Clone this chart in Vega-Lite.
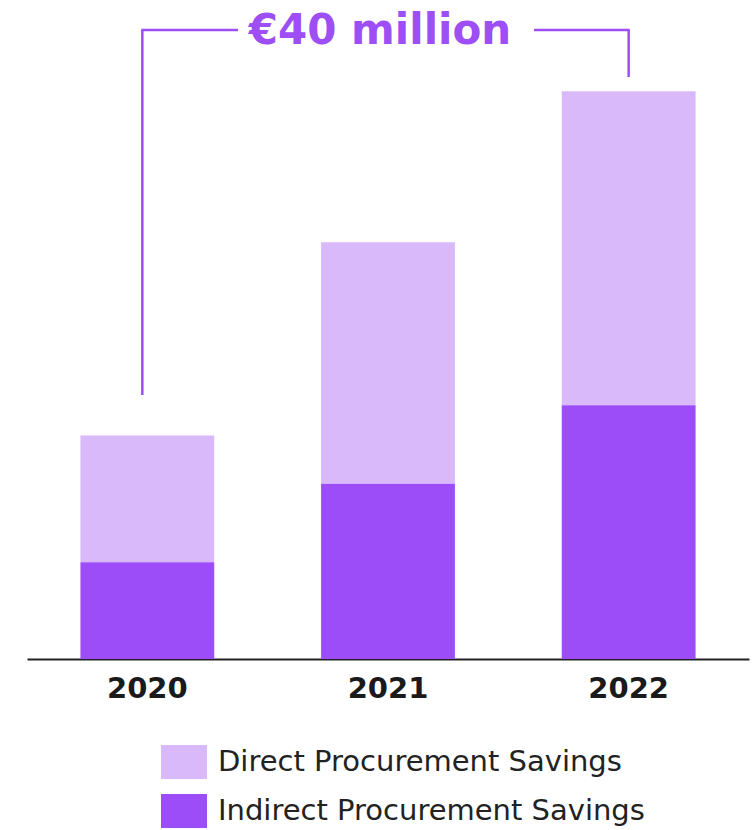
{
  "$schema": "https://vega.github.io/schema/vega-lite/v6.json",
  "autosize": {"type": "none"},
  "width": 722,
  "height": 659,
  "padding": {"left": 27, "top": 0, "right": 5, "bottom": 171},
  "background": "white",
  "config": {"view": {"stroke": null}},
  "datasets": {
    "savings": [
      {"year": "2020", "type": "Direct Procurement Savings", "value": 4.2},
      {"year": "2020", "type": "Indirect Procurement Savings", "value": 3.2},
      {"year": "2021", "type": "Direct Procurement Savings", "value": 8.0},
      {"year": "2021", "type": "Indirect Procurement Savings", "value": 5.8},
      {"year": "2022", "type": "Direct Procurement Savings", "value": 10.4},
      {"year": "2022", "type": "Indirect Procurement Savings", "value": 8.4}
    ],
    "bracketStart": [
      {"year": "2020", "low": 8.74, "high": 20.83}
    ],
    "bracketEnd": [
      {"year": "2022", "low": 19.27, "high": 20.83}
    ],
    "bracketLabel": [
      {"from": "2020", "mid": "2021", "to": "2022", "level": 20.83, "label": "€40 million"}
    ]
  },
  "layer": [
    {
      "data": {"name": "savings"},
      "mark": {"type": "bar"},
      "encoding": {
        "x": {
          "field": "year",
          "type": "nominal",
          "scale": {"paddingInner": 0.444, "paddingOuter": 0.222},
          "axis": {
            "title": null,
            "labelAngle": 0,
            "ticks": false,
            "domainColor": "#222222",
            "domainWidth": 2,
            "labelFont": "DejaVu Sans",
            "labelFontWeight": "bold",
            "labelFontSize": 29,
            "labelColor": "#1a1a1a",
            "labelPadding": 15
          }
        },
        "y": {
          "field": "value",
          "type": "quantitative",
          "stack": "zero",
          "scale": {"domain": [0, 21.82], "nice": false},
          "axis": null
        },
        "color": {
          "field": "type",
          "type": "nominal",
          "scale": {
            "domain": ["Direct Procurement Savings", "Indirect Procurement Savings"],
            "range": ["#DAB9FB", "#9C4DF7"]
          },
          "legend": {
            "title": null,
            "orient": "none",
            "legendX": 134,
            "legendY": 739,
            "padding": 0,
            "rowPadding": 9,
            "symbolType": "M-1,-0.739L1,-0.739L1,0.739L-1,0.739Z",
            "symbolSize": 2116,
            "symbolStrokeWidth": 0,
            "symbolOpacity": 1,
            "labelFont": "DejaVu Sans",
            "labelFontSize": 29,
            "labelColor": "#222222",
            "labelOffset": 11,
            "labelLimit": 600
          }
        },
        "order": {"field": "type", "sort": "descending"}
      }
    },
    {
      "data": {"name": "bracketStart"},
      "mark": {"type": "rule", "color": "#9D4EF5", "strokeWidth": 2.5, "xOffset": -5},
      "encoding": {
        "x": {"field": "year", "type": "nominal"},
        "y": {"field": "low", "type": "quantitative"},
        "y2": {"field": "high"}
      }
    },
    {
      "data": {"name": "bracketEnd"},
      "mark": {"type": "rule", "color": "#9D4EF5", "strokeWidth": 2.5},
      "encoding": {
        "x": {"field": "year", "type": "nominal"},
        "y": {"field": "low", "type": "quantitative"},
        "y2": {"field": "high"}
      }
    },
    {
      "data": {"name": "bracketLabel"},
      "mark": {"type": "rule", "color": "#9D4EF5", "strokeWidth": 2.5, "xOffset": -6, "x2Offset": -150},
      "encoding": {
        "x": {"field": "from", "type": "nominal"},
        "x2": {"field": "mid"},
        "y": {"field": "level", "type": "quantitative"}
      }
    },
    {
      "data": {"name": "bracketLabel"},
      "mark": {"type": "rule", "color": "#9D4EF5", "strokeWidth": 2.5, "xOffset": 146, "x2Offset": 1},
      "encoding": {
        "x": {"field": "mid", "type": "nominal"},
        "x2": {"field": "to"},
        "y": {"field": "level", "type": "quantitative"}
      }
    },
    {
      "data": {"name": "bracketLabel"},
      "mark": {
        "type": "text",
        "color": "#9D4EF5",
        "font": "DejaVu Sans",
        "fontWeight": "bold",
        "fontSize": 42,
        "align": "center",
        "baseline": "middle",
        "dx": -8,
        "dy": 1
      },
      "encoding": {
        "x": {"field": "mid", "type": "nominal"},
        "y": {"field": "level", "type": "quantitative"},
        "text": {"field": "label"}
      }
    }
  ]
}
